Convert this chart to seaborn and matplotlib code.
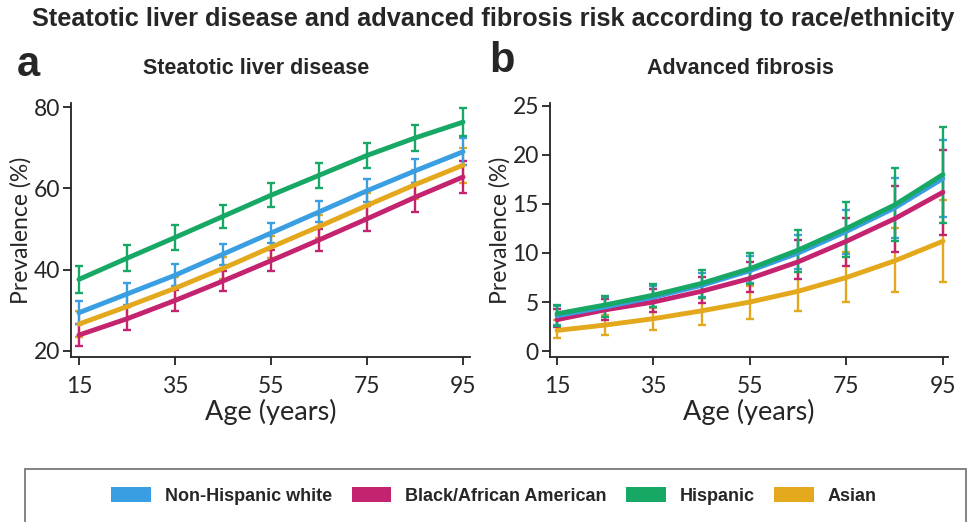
import matplotlib
matplotlib.use("Agg")
import matplotlib.pyplot as plt
from matplotlib.patches import Patch, Rectangle
import seaborn as sns
import pandas as pd

# ---- data ----
ages = [15, 25, 35, 45, 55, 65, 75, 85, 95]
groups = ["Non-Hispanic white", "Black/African American", "Hispanic", "Asian"]
colors = {"Non-Hispanic white": "#3a9fe2", "Black/African American": "#c4246f",
          "Hispanic": "#17a865", "Asian": "#e4a81c"}

# Panel a: steatotic liver disease (%), symmetric CI half-widths
sld_white = [29.4, 34.0, 38.6, 43.8, 49.0, 54.2, 59.4, 64.3, 69.0]
sld_black = [23.9, 27.9, 32.4, 37.2, 42.2, 47.3, 52.5, 57.8, 62.8]
sld_hisp = [37.6, 42.8, 47.9, 53.1, 58.3, 63.2, 68.1, 72.4, 76.3]
sld_asian = [26.6, 30.9, 35.4, 40.3, 45.5, 50.6, 55.8, 60.9, 65.7]
sld_white_err = [2.8, 2.8, 2.7, 2.6, 2.5, 2.6, 2.8, 3.0, 3.3]
sld_black_err = [2.8, 2.8, 2.6, 2.5, 2.6, 2.8, 3.1, 3.6, 4.0]
sld_hisp_err = [3.3, 3.2, 3.0, 2.9, 2.9, 3.0, 3.1, 3.3, 3.4]
sld_asian_err = [3.2, 3.1, 2.9, 2.7, 2.7, 2.8, 3.1, 3.6, 4.3]

# Panel b: advanced fibrosis (%), with lower/upper CI
af_white = [3.6, 4.5, 5.5, 6.7, 8.2, 10.0, 12.2, 14.6, 17.6]
af_white_lo = [2.7, 3.5, 4.5, 5.5, 6.9, 8.4, 9.9, 11.5, 13.7]
af_white_hi = [4.6, 5.5, 6.6, 8.0, 9.7, 11.8, 14.4, 17.6, 21.5]
af_black = [3.2, 4.2, 5.0, 6.1, 7.4, 9.1, 11.2, 13.5, 16.2]
af_black_lo = [2.4, 3.2, 4.0, 4.9, 6.0, 7.3, 8.7, 10.1, 11.8]
af_black_hi = [4.3, 5.3, 6.3, 7.6, 9.1, 11.3, 13.6, 16.8, 20.5]
af_hisp = [3.8, 4.7, 5.7, 6.9, 8.4, 10.3, 12.5, 14.9, 18.0]
af_hisp_lo = [2.6, 3.5, 4.5, 5.4, 6.8, 8.1, 9.6, 11.2, 13.1]
af_hisp_hi = [4.7, 5.6, 6.8, 8.3, 10.0, 12.3, 15.2, 18.7, 22.9]
af_asian = [2.1, 2.65, 3.3, 4.1, 5.0, 6.1, 7.5, 9.2, 11.2]
af_asian_lo = [1.3, 1.6, 2.1, 2.7, 3.3, 4.1, 5.0, 6.0, 7.0]
af_asian_hi = [3.2, 3.7, 4.4, 5.4, 6.6, 8.1, 10.1, 12.5, 15.4]

x_ticks = [15, 35, 55, 75, 95]
title = "Steatotic liver disease and advanced fibrosis risk according to race/ethnicity"

# ---- build tables ----
sld = {"Non-Hispanic white": (sld_white, sld_white_err),
       "Black/African American": (sld_black, sld_black_err),
       "Hispanic": (sld_hisp, sld_hisp_err),
       "Asian": (sld_asian, sld_asian_err)}
af = {"Non-Hispanic white": (af_white, af_white_lo, af_white_hi),
      "Black/African American": (af_black, af_black_lo, af_black_hi),
      "Hispanic": (af_hisp, af_hisp_lo, af_hisp_hi),
      "Asian": (af_asian, af_asian_lo, af_asian_hi)}

rows_a, rows_b = [], []
for g in groups:
    v, e = sld[g]
    for a_, vv, ee in zip(ages, v, e):
        rows_a.append({"age": a_, "group": g, "val": vv, "lo": vv - ee, "hi": vv + ee})
    v, lo, hi = af[g]
    for a_, vv, l_, h_ in zip(ages, v, lo, hi):
        rows_b.append({"age": a_, "group": g, "val": vv, "lo": l_, "hi": h_})
df_a = pd.DataFrame(rows_a)
df_b = pd.DataFrame(rows_b)

sns.set_theme(style="ticks")
base_font = ["Lato", "DejaVu Sans"]
bold_font = ["Liberation Sans", "DejaVu Sans"]
plt.rcParams["font.family"] = base_font

fig = plt.figure(figsize=(9.7, 5.22), dpi=100)
ax_a = fig.add_axes([71 / 970, 1 - 357 / 522, (470 - 71) / 970, (357 - 103) / 522])
ax_b = fig.add_axes([550 / 970, 1 - 357 / 522, (948 - 550) / 970, (357 - 103) / 522])

draw_order = ["Asian", "Black/African American", "Non-Hispanic white", "Hispanic"]


def draw(ax, df):
    for g in draw_order:
        d = df[df["group"] == g]
        ax.errorbar(d["age"], d["val"], yerr=[d["val"] - d["lo"], d["hi"] - d["val"]],
                    fmt="none", ecolor=colors[g], elinewidth=1.7, capsize=3.0,
                    capthick=1.7, zorder=2)
    sns.lineplot(data=df, x="age", y="val", hue="group", hue_order=draw_order,
                 palette=colors, linewidth=3.5, legend=False, ax=ax, zorder=3)


draw(ax_a, df_a)
draw(ax_b, df_b)

ax_a.set_xlim(13.35, 96.45)
ax_a.set_ylim(18.5, 81.0)
ax_a.set_yticks([20, 40, 60, 80])
ax_b.set_xlim(13.55, 96.05)
ax_b.set_ylim(-0.61, 25.3)
ax_b.set_yticks([0, 5, 10, 15, 20, 25])

for ax in (ax_a, ax_b):
    ax.set_xticks(x_ticks)
    for s in ("top", "right"):
        ax.spines[s].set_visible(False)
    for s in ("left", "bottom"):
        ax.spines[s].set_linewidth(1.3)
        ax.spines[s].set_color("#222222")
    ax.tick_params(axis="both", direction="out", length=6, width=1.3,
                   labelsize=16.5, color="#222222")
    ax.tick_params(axis="x", pad=8)
    ax.tick_params(axis="y", pad=2)
    ax.set_xlabel("Age (years)", fontsize=19.5, labelpad=1)
    ax.set_ylabel("Prevalence (%)", fontsize=16.5, labelpad=1)

# titles
fig.text(493 / 970, 1 - 19 / 522, title, ha="center", va="center", fontsize=18.3,
         fontweight="bold", family=bold_font)
fig.text(28 / 970, 1 - 65 / 522, "a", ha="center", va="center", fontsize=30,
         fontweight="bold", family=bold_font)
fig.text(502 / 970, 1 - 61 / 522, "b", ha="center", va="center", fontsize=30,
         fontweight="bold", family=bold_font)
fig.text(256 / 970, 1 - 69 / 522, "Steatotic liver disease", ha="center", va="center",
         fontsize=15.5, fontweight="bold", family=bold_font)
fig.text(740 / 970, 1 - 69 / 522, "Advanced fibrosis", ha="center", va="center",
         fontsize=15.5, fontweight="bold", family=bold_font)

# legend box (bottom edge runs off the figure, as in the reference)
fig.patches.append(Rectangle((25 / 970, -5 / 522), (966 - 25) / 970, (522 - 469 + 5) / 522,
                             transform=fig.transFigure, fill=False,
                             edgecolor="#7a7a7a", linewidth=1.3))
handles = [Patch(facecolor=colors[g], edgecolor="none") for g in groups]
fig.legend(handles, groups, loc="center", bbox_to_anchor=(494 / 970, 1 - 496 / 522),
           ncol=4, frameon=False, handlelength=2.2, handleheight=0.85,
           columnspacing=1.1, handletextpad=0.75,
           prop={"family": bold_font, "weight": "bold", "size": 13})

fig.savefig("out.png", dpi=100)
